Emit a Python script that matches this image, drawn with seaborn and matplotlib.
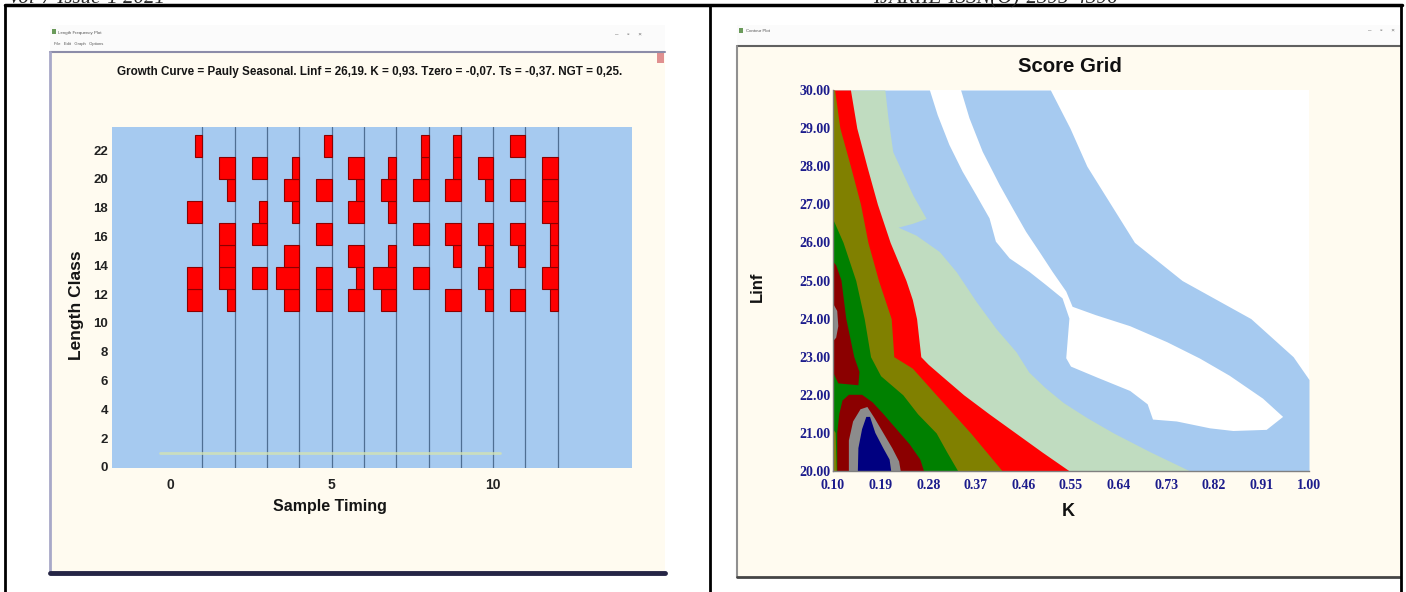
import matplotlib
matplotlib.use("Agg")
import matplotlib.pyplot as plt
import matplotlib.font_manager as fm
import seaborn as sns
from matplotlib.patches import Rectangle

W, H = 1406, 592

### --- left window : length frequency plot ---
sample_times = [1, 2, 3, 4, 5, 6, 7, 8, 9, 10, 11, 12]
class_mids = [11.6, 13.13, 14.66, 16.19, 17.72, 19.25, 20.78, 22.31]
class_width = 1.53
# frequencies per sample, lowest length class first
freq = [
    [2, 2, 0, 0, 2, 0, 0, 1],
    [1, 2, 2, 2, 0, 1, 2, 0],
    [0, 2, 0, 2, 1, 0, 2, 0],
    [2, 3, 2, 0, 1, 2, 1, 0],
    [2, 2, 0, 2, 0, 2, 0, 1],
    [2, 1, 2, 0, 2, 1, 2, 0],
    [2, 3, 1, 0, 1, 2, 1, 0],
    [0, 2, 0, 2, 0, 2, 1, 1],
    [2, 0, 1, 2, 0, 2, 1, 1],
    [1, 2, 1, 2, 0, 1, 2, 0],
    [2, 0, 1, 2, 0, 2, 0, 2],
    [1, 2, 1, 1, 2, 2, 2, 0],
]
time_ticks = [0, 5, 10]
length_ticks = [0, 2, 4, 6, 8, 10, 12, 14, 16, 18, 20, 22]
faint_curve_t = [-0.3, 10.2]
faint_curve_len = [1.0, 1.0]
growth_title = "Growth Curve = Pauly Seasonal. Linf = 26,19. K = 0,93. Tzero = -0,07. Ts = -0,37. NGT = 0,25."

### --- right window : score grid (band boundaries) ---
k_ticks = [0.10, 0.19, 0.28, 0.37, 0.46, 0.55, 0.64, 0.73, 0.82, 0.91, 1.00]
linf_ticks = [20, 21, 22, 23, 24, 25, 26, 27, 28, 29, 30]

sky_L = [30, 29, 28, 27, 26, 25, 24, 23, 22.4, 20]
sky_K = [0.511, 0.548, 0.58, 0.625, 0.67, 0.76, 0.89, 0.97, 1.0, 1.0]

ridge_K = [0.342, 0.358, 0.383, 0.415, 0.440, 0.465, 0.490, 0.515, 0.541, 0.553,
           0.597, 0.662, 0.732, 0.794, 0.850, 0.913, 0.951,
           0.920, 0.857, 0.813, 0.750, 0.705, 0.695, 0.662, 0.600, 0.550,
           0.541, 0.544, 0.547, 0.534, 0.503, 0.471, 0.434, 0.408, 0.396,
           0.371, 0.345, 0.320, 0.298, 0.283]
ridge_L = [30.0, 29.26, 28.38, 27.51, 26.89, 26.28, 25.76, 25.23, 24.71, 24.31,
           24.09, 23.80, 23.38, 22.95, 22.50, 21.90, 21.42,
           21.08, 21.05, 21.12, 21.30, 21.35, 21.75, 22.10, 22.45, 22.74,
           22.96, 23.48, 24.0, 24.53, 24.88, 25.23, 25.58, 26.02, 26.63,
           27.24, 27.86, 28.56, 29.34, 30.0]

pale_L = [30, 29.26, 28.38, 27.24, 26.63, 26.5, 26.4, 26.19, 25.76, 25.23, 24.44,
          23.74, 23.13, 22.6, 22.2, 21.8, 21.4, 21.0, 20.5, 20.0]
pale_K = [0.198, 0.204, 0.213, 0.251, 0.276, 0.25, 0.223, 0.257, 0.301, 0.333, 0.371,
          0.408, 0.446, 0.47, 0.50, 0.535, 0.58, 0.63, 0.70, 0.775]

red_L = [30, 29, 28, 27, 26, 25, 24.5, 24, 23.5, 23, 22.8, 22.5, 22, 21.5, 21, 20.5, 20]
red_K = [0.133, 0.145, 0.164, 0.184, 0.208, 0.238, 0.25, 0.258, 0.262, 0.266, 0.28,
         0.305, 0.347, 0.395, 0.445, 0.495, 0.547]

olive_L = [30, 29, 28, 27, 26, 25, 24, 23, 22.7, 22, 21, 20]
olive_K = [0.103, 0.113, 0.133, 0.152, 0.166, 0.186, 0.21, 0.215, 0.25, 0.295, 0.36, 0.42]

green_L = [26.6, 26, 25, 24, 23, 22.5, 22, 21.5, 21, 20.5, 20]
green_K = [0.1, 0.119, 0.143, 0.159, 0.171, 0.19, 0.232, 0.26, 0.295, 0.315, 0.336]

maroon_top_K = [0.1, 0.106, 0.116, 0.125, 0.14, 0.15, 0.148, 0.11, 0.1]
maroon_top_L = [25.5, 25.4, 25.0, 24.0, 23.0, 22.6, 22.25, 22.3, 22.6]
maroon_K = [0.108, 0.108, 0.112, 0.118, 0.13, 0.155, 0.175, 0.195, 0.22, 0.245, 0.265, 0.272]
maroon_L = [20, 21.0, 21.5, 21.85, 22.0, 22.0, 21.8, 21.5, 21.1, 20.7, 20.3, 20]
grey_K = [0.13, 0.13, 0.138, 0.152, 0.165, 0.178, 0.195, 0.212, 0.225, 0.228]
grey_L = [20, 20.8, 21.3, 21.62, 21.68, 21.4, 21.0, 20.6, 20.25, 20]
grey_edge_K = [0.1, 0.1, 0.108, 0.11, 0.106]
grey_edge_L = [23.4, 24.4, 24.2, 23.8, 23.5]
navy_K = [0.147, 0.148, 0.155, 0.163, 0.17, 0.18, 0.195, 0.207, 0.21]
navy_L = [20, 20.6, 21.1, 21.42, 21.42, 21.0, 20.6, 20.3, 20]
olive_edge_K = [0.1, 0.1, 0.105, 0.107]
olive_edge_L = [20, 21.1, 21.0, 20]

SKY = "#a6caf0"
MONEY = "#c0dcc0"
CREAM = "#fffbf0"

sns.set_theme(style="white")
names = {f.name for f in fm.fontManager.ttflist}
NARROW = "Liberation Sans Narrow" if "Liberation Sans Narrow" in names else "Liberation Sans"
plt.rcParams["font.family"] = ["Liberation Sans", "DejaVu Sans"]

fig = plt.figure(figsize=(W / 100, H / 100), dpi=100)
fig.patch.set_facecolor("white")


def px_axes(x0, y0, x1, y1):
    return fig.add_axes([x0 / W, 1 - y1 / H, (x1 - x0) / W, (y1 - y0) / H])


def px_text(x, y, s, **kw):
    return fig.text(x / W, 1 - y / H, s, **kw)


### page / window decoration
bg = fig.add_axes([0, 0, 1, 1])
bg.set_xlim(0, W)
bg.set_ylim(H, 0)
bg.axis("off")

bg.add_patch(Rectangle((50, 25), 615, 27, fc="#fbfbfb", ec="none"))
bg.add_patch(Rectangle((50, 52), 615, 521, fc=CREAM, ec="none"))
bg.plot([50, 665], [52, 52], color="#8c8ca8", lw=1.5)
bg.plot([50, 50], [52, 572], color="#a8a8c8", lw=2)
bg.plot([50, 665], [573, 573], color="#252545", lw=3.5)
bg.add_patch(Rectangle((657, 53), 7, 10, fc="#e09090", ec="none"))
bg.add_patch(Rectangle((52, 29), 4, 5, fc="#6a9a5a", ec="none"))

bg.add_patch(Rectangle((737, 25), 663, 21, fc="#fbfbfb", ec="none"))
bg.add_patch(Rectangle((737, 46), 663, 531, fc=CREAM, ec="none"))
bg.plot([737, 1400], [46, 46], color="#606060", lw=1.5)
bg.plot([737, 737], [46, 577], color="#909090", lw=1.5)
bg.plot([737, 1400], [577, 577], color="#454545", lw=2)
bg.add_patch(Rectangle((739, 28), 4, 5, fc="#6a9a5a", ec="none"))

bg.plot([5, 1402], [5, 5], color="black", lw=2.5)
for xv in [5, 710, 1401]:
    bg.plot([xv, xv], [5, H], color="black", lw=2)

px_text(58, 33, "Length Frequency Plot", fontsize=3.2, color="#555555", va="center")
px_text(54, 44, "File   Edit   Graph   Options", fontsize=3, color="#555555", va="center")
px_text(615, 35, "–     ▫     ×", fontsize=4.5, color="#666666", va="center")
px_text(746, 31, "Contour Plot", fontsize=3.2, color="#555555", va="center")
px_text(1368, 31, "–     ▫     ×", fontsize=4.5, color="#666666", va="center")

# running header of the page, cropped by the top edge as in the scan
px_text(8, 3, "Vol-7 Issue-1 2021", fontsize=15, style="italic", va="baseline",
        family="Liberation Serif")
px_text(995, 3, "IJARIIE-ISSN(O)-2395-4396", fontsize=15, style="italic", va="baseline",
        ha="center", family="Liberation Serif")

### left chart
ax1 = px_axes(112, 127, 632, 468)
ax1.set_facecolor(SKY)
for t in sample_times:
    ax1.axvline(t, color="#4f6f93", lw=0.9, zorder=1)
ax1.plot(faint_curve_t, faint_curve_len, color="#d2e2b4", lw=2, alpha=0.8, zorder=1)
unit = 0.24
for t, row in zip(sample_times, freq):
    ys = [m for m, c in zip(class_mids, row) if c > 0]
    ws = [c * unit for c in row if c > 0]
    ax1.barh(ys, ws, left=[t - w for w in ws], height=class_width,
             color="#ff0000", edgecolor="#8b0000", linewidth=0.8, zorder=2)
ax1.set_xlim(-1.8, 14.3)
ax1.set_ylim(-0.07, 23.6)
ax1.set_xticks(time_ticks)
ax1.set_yticks(length_ticks)
ax1.tick_params(length=0, labelsize=10, pad=7, axis="x")
ax1.tick_params(length=0, labelsize=9.5, pad=3, axis="y")
for lab in ax1.get_xticklabels() + ax1.get_yticklabels():
    lab.set_family(NARROW)
    lab.set_fontweight("bold")
    lab.set_color("#222222")
sns.despine(ax=ax1, left=True, bottom=True)

title1 = px_text(370, 72, growth_title, fontsize=11, fontweight="bold", family=NARROW,
                 ha="center", va="center", color="#151515")
px_text(330, 507, "Sample Timing", fontsize=11.5, fontweight="bold", family=NARROW,
        ha="center", va="center", color="#151515")
px_text(76, 305, "Length Class", fontsize=12.5, fontweight="bold", rotation=90,
        ha="center", va="center", color="#151515")

### right chart
ax2 = px_axes(833, 90, 1309, 471)
ax2.set_facecolor("white")
ax2.fill_betweenx(sky_L, 0.1, sky_K, color=SKY, lw=0)
ax2.fill(ridge_K, ridge_L, color="white", lw=0)
ax2.fill_betweenx(pale_L, 0.1, pale_K, color=MONEY, lw=0)
ax2.fill_betweenx(red_L, 0.1, red_K, color="#ff0000", lw=0)
ax2.fill_betweenx(olive_L, 0.1, olive_K, color="#808000", lw=0)
ax2.fill_betweenx(green_L, 0.1, green_K, color="#008000", lw=0)
ax2.fill(maroon_top_K, maroon_top_L, color="#8b0000", lw=0)
ax2.fill(maroon_K, maroon_L, color="#8b0000", lw=0)
ax2.fill(grey_K, grey_L, color="#8c8c8c", lw=0)
ax2.fill(grey_edge_K, grey_edge_L, color="#8c8c8c", lw=0)
ax2.fill(navy_K, navy_L, color="#000080", lw=0)
ax2.fill(olive_edge_K, olive_edge_L, color="#808000", lw=0)
ax2.set_xlim(0.1, 1.0)
ax2.set_ylim(20, 30)
ax2.set_xticks(k_ticks)
ax2.set_xticklabels([f"{v:.2f}" for v in k_ticks])
ax2.set_yticks(linf_ticks)
ax2.set_yticklabels([f"{v:.2f}" for v in linf_ticks])
ax2.tick_params(length=0, labelsize=10, pad=6, axis="x")
ax2.tick_params(length=0, labelsize=10, pad=1.5, axis="y")
for lab in ax2.get_xticklabels() + ax2.get_yticklabels():
    lab.set_family("Liberation Serif")
    lab.set_fontweight("bold")
    lab.set_color("#1c1c8c")
sns.despine(ax=ax2)
for side in ["left", "bottom"]:
    ax2.spines[side].set_color("#808080")
    ax2.spines[side].set_linewidth(1)

title2 = px_text(1070, 67, "Score Grid", fontsize=16, fontweight="bold", family=NARROW,
                 ha="center", va="center", color="#111111")
px_text(1068, 512, "K", fontsize=13, fontweight="bold", ha="center", va="center",
        color="#111111")
px_text(757, 287, "Linf", fontsize=12, fontweight="bold", rotation=90, ha="center",
        va="center", color="#111111")

### squeeze titles to the width seen in the picture
renderer = fig.canvas.get_renderer()
for txt, target in [(title1, 505), (title2, 104)]:
    w = txt.get_window_extent(renderer=renderer).width
    txt.set_fontsize(txt.get_fontsize() * target / w)

fig.savefig("out.png", dpi=100)
